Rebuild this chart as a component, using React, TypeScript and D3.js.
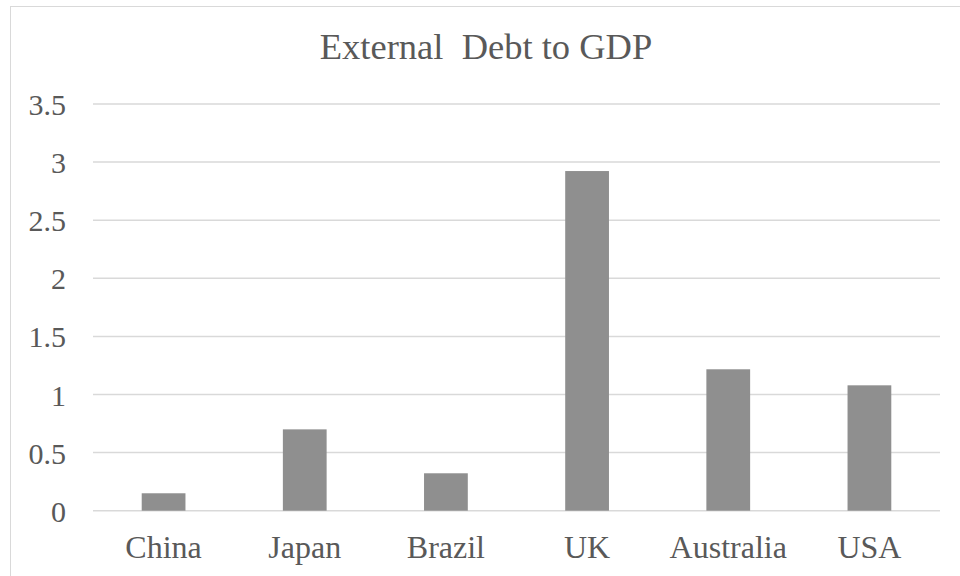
import React from "react";
import * as d3 from "d3";

const categories = ["China", "Japan", "Brazil", "UK", "Australia", "USA"];
const values = [0.15, 0.70, 0.322, 2.923, 1.217, 1.079];
const yTicks = [0, 0.5, 1, 1.5, 2, 2.5, 3, 3.5];
const title = "External\u00A0 Debt to GDP";

export default function App() {
  const W = 960, H = 576;
  const x = d3.scaleBand<string>().domain(categories).range([93, 940]).padding(0);
  const y = d3.scaleLinear().domain([0, 3.5]).range([510.7, 104]);
  const bw = x.bandwidth() * 0.31;
  const font = "Liberation Serif";
  const textColor = "#595959";
  return (
    <svg width={W} height={H} style={{ position: "absolute", left: 0, top: 0, background: "#fff" }}>
      <rect x={0} y={0} width={W} height={H} fill="#fff" />
      <rect x={10.5} y={6.5} width={1000} height={700} fill="none" stroke="#d9d9d9" strokeWidth={1} />
      <text x={486} y={59} textAnchor="middle" fontFamily={font} fontSize={36.5} fill={textColor}>
        {title}
      </text>
      {yTicks.map((t) => (
        <g key={t}>
          <line x1={93} x2={940} y1={y(t)} y2={y(t)} stroke="#d9d9d9" strokeWidth={1.5} />
          <text x={66} y={y(t) + 11} textAnchor="end" fontFamily={font} fontSize={30} fill={textColor}>
            {d3.format("")(t)}
          </text>
        </g>
      ))}
      {categories.map((c, i) => (
        <rect
          key={c}
          x={(x(c) as number) + x.bandwidth() / 2 - bw / 2}
          y={y(values[i])}
          width={bw}
          height={y(0) - y(values[i])}
          fill="#8f8f8f"
        />
      ))}
      {categories.map((c) => (
        <text
          key={c}
          x={(x(c) as number) + x.bandwidth() / 2}
          y={558}
          textAnchor="middle"
          fontFamily={font}
          fontSize={32}
          fill={textColor}
        >
          {c}
        </text>
      ))}
    </svg>
  );
}
